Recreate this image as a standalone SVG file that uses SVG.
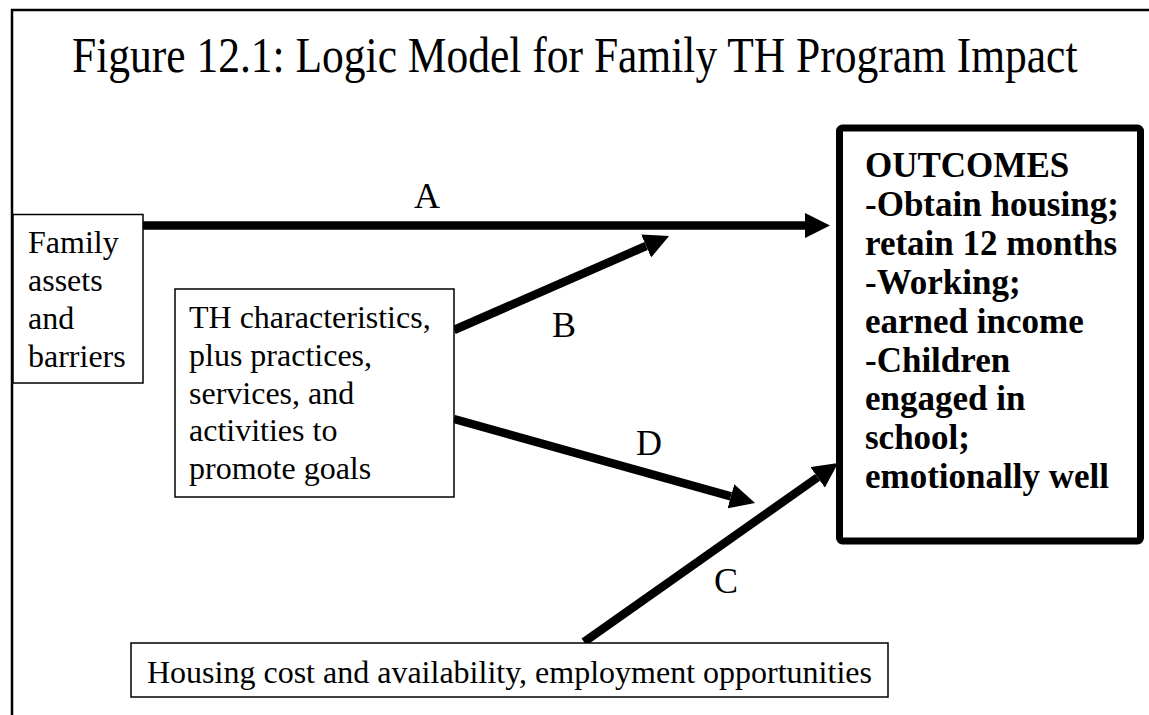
<svg xmlns="http://www.w3.org/2000/svg" width="1149" height="715" viewBox="0 0 1149 715">
<style>
.t{font-family:"Liberation Serif","Times New Roman",serif;fill:#000}
.r{font-size:32px}
.b{font-size:35px;font-weight:bold}
.lab{font-size:36px}
.box{fill:#fff;stroke:#000;stroke-width:1.5}
.arr{stroke:#000;stroke-width:8.5;fill:none;marker-end:url(#ah)}
</style>
<defs>
<marker id="ah" viewBox="0 0 10 10" refX="0" refY="5" markerWidth="2.95" markerHeight="2.95" markerUnits="strokeWidth" orient="auto">
<path d="M0,0 L10,5 L0,10 z" fill="#000"/>
</marker>
</defs>
<rect width="1149" height="715" fill="#fff"/>
<g id="frame">
<path d="M12,715 V10 H1149" fill="none" stroke="#000" stroke-width="2.5"/>
</g>
<g id="title">
<text class="t" transform="translate(72,72) scale(0.87,1)" font-size="50">Figure 12.1: Logic Model for Family TH Program Impact</text>
</g>
<g id="connectors">
<line class="arr" x1="143" y1="225.5" x2="805" y2="225.5"/>
<line class="arr" x1="454" y1="330" x2="646.1" y2="246"/>
<line class="arr" x1="454" y1="419" x2="730.9" y2="496.3"/>
<line class="arr" x1="584" y1="642" x2="817.6" y2="477.4"/>
<text class="t lab" x="414" y="208">A</text>
<text class="t lab" x="552" y="337">B</text>
<text class="t lab" x="636" y="455">D</text>
<text class="t lab" x="714" y="593">C</text>
</g>
<g id="family">
<rect class="box" x="13" y="214.5" width="130" height="168.5"/>
<text class="t r" x="28" y="253">Family</text>
<text class="t r" x="28" y="291">assets</text>
<text class="t r" x="28" y="329">and</text>
<text class="t r" x="28" y="367">barriers</text>
</g>
<g id="th">
<rect class="box" x="175" y="289" width="279" height="208"/>
<text class="t r" x="189" y="328">TH characteristics,</text>
<text class="t r" x="189" y="366">plus practices,</text>
<text class="t r" x="189" y="404">services, and</text>
<text class="t r" x="189" y="441">activities to</text>
<text class="t r" x="189" y="479">promote goals</text>
</g>
<g id="housing">
<rect class="box" x="131" y="643" width="757" height="54"/>
<text class="t r" x="147" y="683">Housing cost and availability, employment opportunities</text>
</g>
<g id="outcomes">
<rect x="839.5" y="128" width="301" height="413" rx="3" fill="#fff" stroke="#000" stroke-width="7"/>
<text class="t b" x="865" y="177">OUTCOMES</text>
<text class="t b" x="865" y="215.9">-Obtain housing;</text>
<text class="t b" x="865" y="254.8">retain 12 months</text>
<text class="t b" x="865" y="293.7">-Working;</text>
<text class="t b" x="865" y="332.6">earned income</text>
<text class="t b" x="865" y="371.5">-Children</text>
<text class="t b" x="865" y="410.4">engaged in</text>
<text class="t b" x="865" y="449.3">school;</text>
<text class="t b" x="865" y="488.2">emotionally well</text>
</g>
</svg>
